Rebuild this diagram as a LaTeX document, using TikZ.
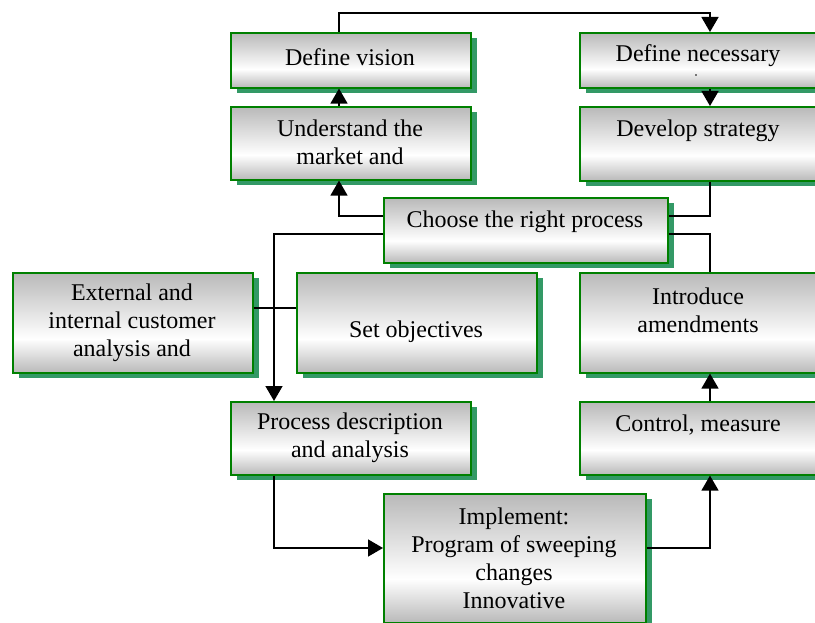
\documentclass[tikz,border=0pt]{standalone}
\usepackage{fontspec}
\setmainfont{Liberation Serif}
\usetikzlibrary{arrows.meta,shadows}
\definecolor{bordergreen}{HTML}{008000}
\definecolor{shadowgreen}{HTML}{339966}
\pgfdeclareverticalshading{boxshade}{100bp}{color(0bp)=(gray!55); color(25bp)=(gray!55); color(42bp)=(white); color(75bp)=(gray!55); color(100bp)=(gray!55)}
\tikzset{
  box/.style={draw=bordergreen, line width=1.6pt, shading=boxshade, inner sep=0pt, anchor=north west,
    general shadow={fill=shadowgreen, shadow xshift=6pt, shadow yshift=-5pt}},
  txt/.style={align=center, font=\fontsize{24}{28}\selectfont, inner sep=0pt},
  conn/.style={draw=black, line width=1.5pt},
  arr/.style={conn, -{Triangle[length=15pt,width=17pt]}}
}
\begin{document}
\begin{tikzpicture}[x=1pt,y=-1pt]
\useasboundingbox (0,0) rectangle (815,623);
% boxes
\node[box, minimum width=240pt, minimum height=55pt] (dv) at (230,32) {};
\node[box, minimum width=240pt, minimum height=73pt] (um) at (230,106) {};
\node[box, minimum width=239pt, minimum height=55pt] (dn) at (579,32) {};
\node[box, minimum width=239pt, minimum height=74pt] (ds) at (579,106) {};
\node[box, minimum width=284pt, minimum height=65pt] (cp) at (383,197) {};
\node[box, minimum width=240pt, minimum height=100pt] (ext) at (12,272) {};
\node[box, minimum width=240pt, minimum height=100pt] (so) at (296,272) {};
\node[box, minimum width=239pt, minimum height=100pt] (ia) at (579,272) {};
\node[box, minimum width=240pt, minimum height=73pt] (pd) at (230,401) {};
\node[box, minimum width=239pt, minimum height=73pt] (cm) at (579,401) {};
\node[box, minimum width=262pt, minimum height=129pt] (im) at (383,493) {};
% texts
\node[txt] (tdv) at (350,57) {Define vision};
\node[txt] (tum) at (350,142) {Understand the\\market and};
\node[txt] (tdn) at (698,56) {Define necessary};
\fill[black] (696,75) circle (0.9pt);
\node[txt] (tds) at (698,131) {Develop strategy};
\node[txt] (tcp) at (525,222) {Choose the right process};
\node[txt] (text) at (132,323) {External and\\internal customer\\analysis and};
\node[txt] (tso) at (416,332) {Set objectives};
\node[txt] (tia) at (698,310) {Introduce\\amendments};
\node[txt] (tpd) at (350,438) {Process description\\and analysis};
\node[txt] (tcm) at (698,425) {Control, measure};
\node[txt] (tim) at (514,558) {Implement:\\Program of sweeping\\changes\\Innovative};
% helper coordinates
\coordinate (xl) at (339,0);
\coordinate (xr) at (710,0);
\coordinate (xm) at (274,0);
\coordinate (ytop) at (0,13);
\coordinate (ya) at (0,216);
\coordinate (yb) at (0,234);
\coordinate (yc) at (0,308);
\coordinate (yd) at (0,548);
% connectors
\draw[arr] (dv.north -| xl) |- (ytop -| xr) -- (dn.north -| xr);
\draw[arr] (dn.south -| xr) -- (ds.north -| xr);
\draw[arr] (um.north -| xl) -- (dv.south -| xl);
\draw[arr] (cp.west |- ya) -| (um.south -| xl);
\draw[arr] (cp.west |- yb) -| (pd.north -| xm);
\draw[conn] (ext.east |- yc) -- (so.west |- yc);
\draw[conn] (ds.south -| xr) |- (cp.east |- ya);
\draw[conn] (cp.east |- yb) -| (ia.north -| xr);
\draw[arr] (cm.north -| xr) -- (ia.south -| xr);
\draw[arr] (pd.south -| xm) |- (im.west |- yd);
\draw[arr] (im.east |- yd) -| (cm.south -| xr);
\end{tikzpicture}
\end{document}
